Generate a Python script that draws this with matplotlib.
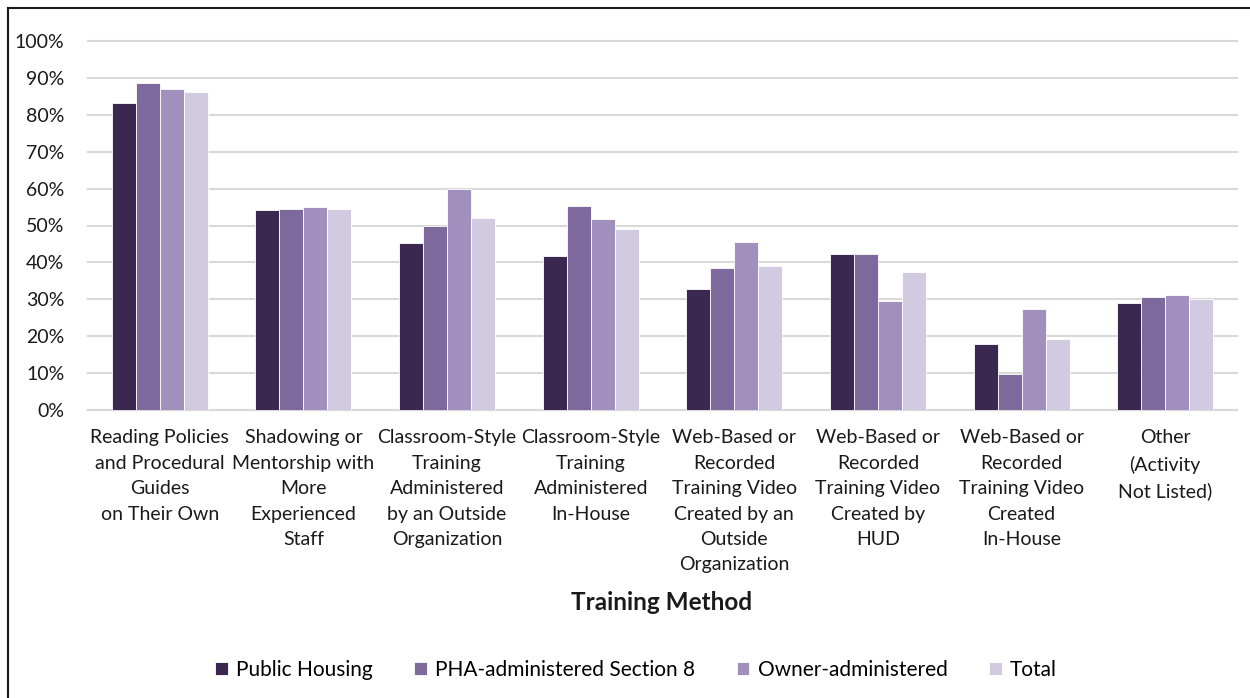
import numpy as np
import matplotlib
matplotlib.use("Agg")
import matplotlib.pyplot as plt
from matplotlib.lines import Line2D
from matplotlib.ticker import PercentFormatter

CATEGORIES = [
    "Reading Policies\nand Procedural\nGuides\non Their Own",
    "Shadowing or\nMentorship with\nMore\nExperienced\nStaff",
    "Classroom-Style\nTraining\nAdministered\nby an Outside\nOrganization",
    "Classroom-Style\nTraining\nAdministered\nIn-House",
    "Web-Based or\nRecorded\nTraining Video\nCreated by an\nOutside\nOrganization",
    "Web-Based or\nRecorded\nTraining Video\nCreated by\nHUD",
    "Web-Based or\nRecorded\nTraining Video\nCreated\nIn-House",
    "Other\n(Activity\nNot Listed)",
]
SERIES = ["Public Housing", "PHA-administered Section 8", "Owner-administered", "Total"]
PUBLIC_HOUSING = [83.2, 54.2, 45.2, 41.8, 32.9, 42.4, 17.8, 28.9]
PHA_SECTION8 = [88.6, 54.6, 49.9, 55.3, 38.4, 42.2, 9.8, 30.7]
OWNER_ADMIN = [87.0, 55.0, 59.8, 51.8, 45.4, 29.5, 27.4, 31.1]
TOTAL = [86.2, 54.6, 52.0, 49.0, 39.0, 37.4, 19.2, 30.2]
COLORS = ["#3a2850", "#7e699c", "#a190be", "#d1cae0"]

plt.rcParams["font.family"] = ["Lato", "DejaVu Sans"]

fig = plt.figure(figsize=(12.5, 6.98), dpi=100)
ax = fig.add_axes([88 / 1250, 1 - 410 / 698, (1237 - 88) / 1250, (410 - 41) / 698])

x = np.arange(len(CATEGORIES))
w = 0.167
data = [PUBLIC_HOUSING, PHA_SECTION8, OWNER_ADMIN, TOTAL]
for i, (vals, name, c) in enumerate(zip(data, SERIES, COLORS)):
    ax.bar(x + (i - 1.5) * w, vals, w, color=c, label=name,
           edgecolor="white", linewidth=0.6, zorder=3)

ax.set_xlim(-0.5, len(CATEGORIES) - 0.5)
ax.set_ylim(0, 100)
ax.set_yticks(np.arange(0, 101, 10))
ax.yaxis.set_major_formatter(PercentFormatter(decimals=0))
ax.grid(axis="y", color="#d9d9d9", linewidth=1.5, zorder=0)
for gl in ax.get_ygridlines():
    gl.set_clip_on(False)
for s in ["top", "right", "left"]:
    ax.spines[s].set_visible(False)
ax.spines["bottom"].set_color("#d9d9d9")
ax.spines["bottom"].set_linewidth(1.5)
ax.tick_params(axis="both", length=0, labelsize=14, colors="#1a1a1a")
ax.tick_params(axis="y", pad=17)
ax.set_xticks(x)
ax.set_xticklabels(CATEGORIES, linespacing=1.6)
ax.tick_params(axis="x", pad=14)

fig.text(662 / 1250, 1 - 603 / 698, "Training Method", ha="center", va="center",
         fontsize=17.5, fontweight="bold", color="#1a1a1a")

fig.legend(loc="center", bbox_to_anchor=(636 / 1250, 1 - 670 / 698), ncol=4,
           frameon=False, fontsize=15, handlelength=0.6, handleheight=0.6,
           handletextpad=0.4, columnspacing=2.0)

fig.add_artist(Line2D([7.5 / 1250, 1.0], [1 - 8 / 698, 1 - 8 / 698],
                      transform=fig.transFigure, color="#1a1a1a", linewidth=1.5))
fig.add_artist(Line2D([7.5 / 1250, 7.5 / 1250], [0, 1 - 8 / 698],
                      transform=fig.transFigure, color="#1a1a1a", linewidth=1.5))

fig.savefig("out.png", dpi=100)
